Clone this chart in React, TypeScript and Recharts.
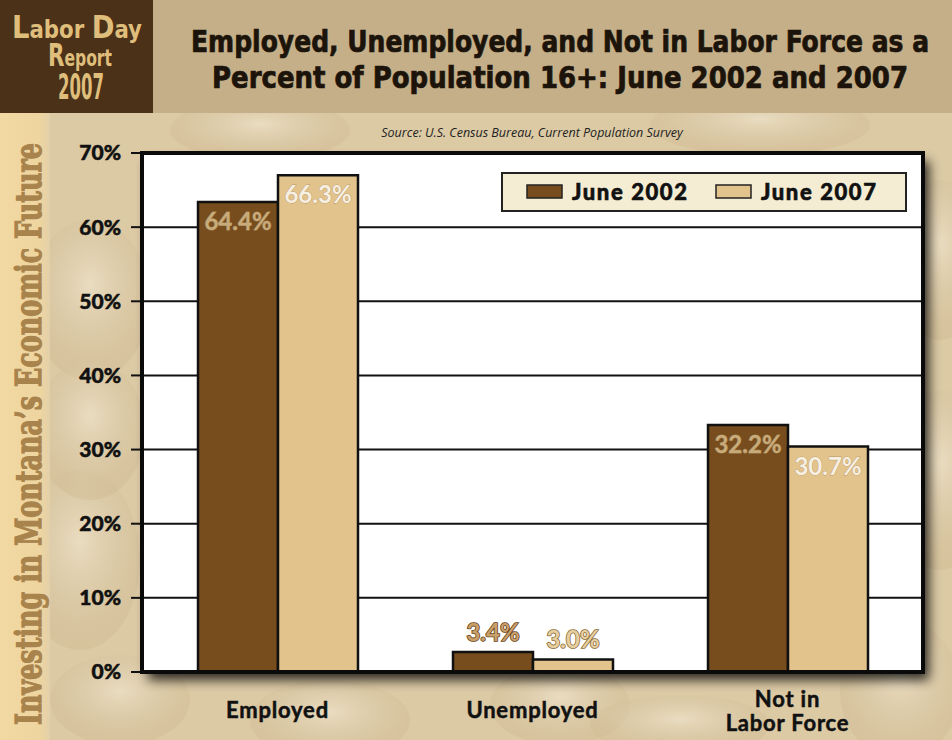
import React from "react";
import { BarChart, Bar, XAxis, YAxis, CartesianGrid, LabelList } from "recharts";

// Labor Day Report 2007 — employed / unemployed / not in labor force,
// June 2002 vs June 2007. Bar heights; the
// printed value labels are kept separately (they don't quite agree).

const CATEGORIES = ["Employed", "Unemployed", "Not in\nLabor Force"];
const SERIES = ["June 2002", "June 2007"];
const VALUES_2002 = [63.4, 2.7, 33.3];
const VALUES_2007 = [67.0, 1.7, 30.4];
const LABELS_2002 = ["64.4%", "3.4%", "32.2%"];
const LABELS_2007 = ["66.3%", "3.0%", "30.7%"];
const Y_TICKS = [0, 10, 20, 30, 40, 50, 60, 70];

const TITLE = [
  "Employed, Unemployed, and Not in Labor Force as a",
  "Percent of Population 16+: June 2002 and 2007",
];
const SOURCE = "Source: U.S. Census Bureau, Current Population Survey";
const SIDE_TEXT = "Investing in Montana\u2019s Economic Future";

const W = 952;
const H = 740;
const PLOT = { left: 142, top: 153, right: 923, bottom: 672 };

const DARK = "#774d1d";
const LIGHT = "#e2c38b";
const INK = "#111";
const FONT = "Lato, 'DejaVu Sans', sans-serif";

const data = CATEGORIES.map((name, i) => ({
  name,
  y2002: VALUES_2002[i],
  y2007: VALUES_2007[i],
}));

function makeLabel(labels: string[], series: 0 | 1) {
  return (props: any) => {
    const { x, y, width, index, value } = props;
    const cx = Number(x) + Number(width) / 2;
    const inside = Number(value) > 10;
    let fill: string, stroke: string;
    if (inside) {
      fill = series === 0 ? "#c8ab7b" : "#f6efe2";
      stroke = series === 0 ? "#a88658" : "#b99a6c";
    } else {
      fill = series === 0 ? "#c9a06a" : "#e6cf9f";
      stroke = series === 0 ? "#6a4520" : "#8c6c3c";
    }
    return (
      <text
        x={cx}
        y={inside ? Number(y) + 28 : Number(y) - 11}
        textAnchor="middle"
        fontFamily={FONT}
        fontWeight={700}
        fontSize={24}
        fill={fill}
        stroke={stroke}
        strokeWidth={inside ? 0.8 : 1.6}
        paintOrder="stroke"
      >
        {labels[index]}
      </text>
    );
  };
}

function CategoryTick(props: any) {
  const { x, y, payload } = props;
  const lines = String(payload.value).split("\n");
  const first = lines.length > 1 ? 35 : 46;
  return (
    <text
      x={x}
      y={y}
      textAnchor="middle"
      fontFamily={FONT}
      fontWeight={700}
      fontSize={22}
      fill={INK}
      stroke={INK}
      strokeWidth={0.5}
      letterSpacing={0.8}
    >
      {lines.map((l, i) => (
        <tspan key={i} x={x} y={Number(y) + first + i * 24}>
          {l}
        </tspan>
      ))}
    </text>
  );
}

function Background() {
  const pw = PLOT.right - PLOT.left;
  const ph = PLOT.bottom - PLOT.top;
  return (
    <svg width={W} height={H} style={{ position: "absolute", left: 0, top: 0 }}>
      <defs>
        <linearGradient id="strip" x1="0" y1="0" x2="1" y2="0">
          <stop offset="0%" stopColor="#f2d9a2" />
          <stop offset="80%" stopColor="#eed5a0" />
          <stop offset="100%" stopColor="#e3d0aa" />
        </linearGradient>
        <radialGradient id="bean" cx="50%" cy="40%" r="60%">
          <stop offset="0%" stopColor="#efe4cc" stopOpacity={0.7} />
          <stop offset="100%" stopColor="#c9b288" stopOpacity={0.3} />
        </radialGradient>
        <filter id="shadow" x="-10%" y="-10%" width="120%" height="120%">
          <feGaussianBlur stdDeviation="6" />
        </filter>
      </defs>
      <rect width={W} height={H} fill="#dccaa5" />
      {[
        [120, 700, 70, 45], [330, 720, 80, 40], [560, 705, 70, 40], [900, 690, 60, 70],
        [80, 560, 60, 90], [940, 480, 50, 90], [940, 260, 45, 80], [260, 130, 90, 30],
        [760, 125, 110, 30], [90, 300, 60, 80], [90, 430, 55, 70], [680, 725, 90, 30],
      ].map(([cx, cy, rx, ry], i) => (
        <ellipse key={i} cx={cx} cy={cy} rx={rx} ry={ry} fill="url(#bean)" />
      ))}
      <rect x={0} y={113} width={50} height={H - 113} fill="url(#strip)" />
      <rect x={0} y={0} width={W} height={113} fill="#c4af89" />
      <rect x={0} y={0} width={153} height={113} fill="#4a3117" />
      <g fill="#dfbe7c" fontFamily="'DejaVu Sans', sans-serif" fontWeight={700}>
        <text transform="translate(12 38) scale(1 1.15)" textLength={130} lengthAdjust="spacingAndGlyphs">
          <tspan fontSize={27}>L</tspan>
          <tspan fontSize={21}>abor </tspan>
          <tspan fontSize={27}>D</tspan>
          <tspan fontSize={21}>ay</tspan>
        </text>
        <text transform="translate(48 66) scale(1 1.45)" textLength={64} lengthAdjust="spacingAndGlyphs">
          <tspan fontSize={22}>R</tspan>
          <tspan fontSize={16}>eport</tspan>
        </text>
        <text transform="translate(58 99) scale(1 2.1)" fontSize={17} textLength={46} lengthAdjust="spacingAndGlyphs">
          2007
        </text>
      </g>
      <g
        fill="#1c140a"
        stroke="#1c140a"
        strokeWidth={0.6}
        fontFamily="'Liberation Sans Narrow', 'DejaVu Sans Condensed', sans-serif"
        fontWeight={700}
        fontSize={25}
        textAnchor="middle"
      >
        <text transform="translate(560 52) scale(1 1.2)" textLength={738} lengthAdjust="spacingAndGlyphs">
          {TITLE[0]}
        </text>
        <text transform="translate(560 88) scale(1 1.2)" textLength={696} lengthAdjust="spacingAndGlyphs">
          {TITLE[1]}
        </text>
      </g>
      <text
        transform="translate(41 434) rotate(-90) scale(1 1.4)"
        textAnchor="middle"
        fontFamily="'DejaVu Serif', serif"
        fontWeight={700}
        fontSize={25}
        fill="#a8834c"
        stroke="#a8834c"
        strokeWidth={0.9}
        textLength={582}
        lengthAdjust="spacingAndGlyphs"
      >
        {SIDE_TEXT}
      </text>
      <text
        x={532}
        y={137}
        textAnchor="middle"
        fontFamily="'Open Sans', sans-serif"
        fontStyle="italic"
        fontSize={12.5}
        fill="#222"
      >
        {SOURCE}
      </text>
      <rect
        x={PLOT.left + 6}
        y={PLOT.top + 8}
        width={pw}
        height={ph}
        fill="#000"
        opacity={0.8}
        filter="url(#shadow)"
      />
      <rect x={PLOT.left} y={PLOT.top} width={pw} height={ph} fill="#fff" />
    </svg>
  );
}

function Overlay() {
  const colors = [DARK, LIGHT];
  const swatchX = [527, 716];
  return (
    <svg
      width={W}
      height={H}
      style={{ position: "absolute", left: 0, top: 0, pointerEvents: "none" }}
    >
      <rect
        x={PLOT.left}
        y={PLOT.top}
        width={PLOT.right - PLOT.left}
        height={PLOT.bottom - PLOT.top}
        fill="none"
        stroke="#0a0a0a"
        strokeWidth={4}
      />
      <rect x={502} y={173} width={404} height={38} fill="#f4edd3" stroke="#222" strokeWidth={2} />
      {SERIES.map((s, i) => (
        <g key={s}>
          <rect x={swatchX[i]} y={185} width={35} height={13} fill={colors[i]} stroke="#222" strokeWidth={1.5} />
          <text
            x={swatchX[i] + 45}
            y={200}
            fontFamily={FONT}
            fontWeight={900}
            fontSize={22}
            fill={INK}
            stroke={INK}
            strokeWidth={0.6}
            letterSpacing={1.6}
          >
            {s}
          </text>
        </g>
      ))}
    </svg>
  );
}

export default function App() {
  const yAxisWidth = 80;
  const xAxisHeight = 40;
  return (
    <div style={{ position: "relative", width: W, height: H }}>
      <style>{`body { margin: 0; }`}</style>
      <Background />
      <div style={{ position: "absolute", left: 0, top: 0 }}>
        <BarChart
          width={W}
          height={H}
          data={data}
          barGap={0}
          barSize={80}
          margin={{
            top: PLOT.top,
            left: PLOT.left - yAxisWidth,
            right: W - PLOT.right,
            bottom: H - PLOT.bottom - xAxisHeight,
          }}
        >
          <CartesianGrid horizontal vertical={false} stroke={INK} strokeWidth={2} strokeOpacity={1} />
          <XAxis
            dataKey="name"
            height={xAxisHeight}
            axisLine={false}
            tickLine={false}
            tickSize={0}
            tickMargin={0}
            padding={{ left: 8, right: 8 }}
            interval={0}
            tick={<CategoryTick />}
          />
          <YAxis
            width={yAxisWidth}
            domain={[0, 70]}
            ticks={Y_TICKS}
            interval={0}
            axisLine={false}
            tickSize={11}
            tickMargin={10}
            tickLine={{ stroke: INK, strokeWidth: 2 }}
            tickFormatter={(v: number) => `${v}%`}
            tick={{ fontFamily: FONT, fontWeight: 900, fontSize: 21, fill: INK, stroke: INK, strokeWidth: 0.5 }}
          />
          <Bar dataKey="y2002" name={SERIES[0]} fill={DARK} stroke={INK} strokeWidth={2.5} isAnimationActive={false}>
            <LabelList dataKey="y2002" content={makeLabel(LABELS_2002, 0)} />
          </Bar>
          <Bar dataKey="y2007" name={SERIES[1]} fill={LIGHT} stroke={INK} strokeWidth={2.5} isAnimationActive={false}>
            <LabelList dataKey="y2007" content={makeLabel(LABELS_2007, 1)} />
          </Bar>
        </BarChart>
      </div>
      <Overlay />
    </div>
  );
}
